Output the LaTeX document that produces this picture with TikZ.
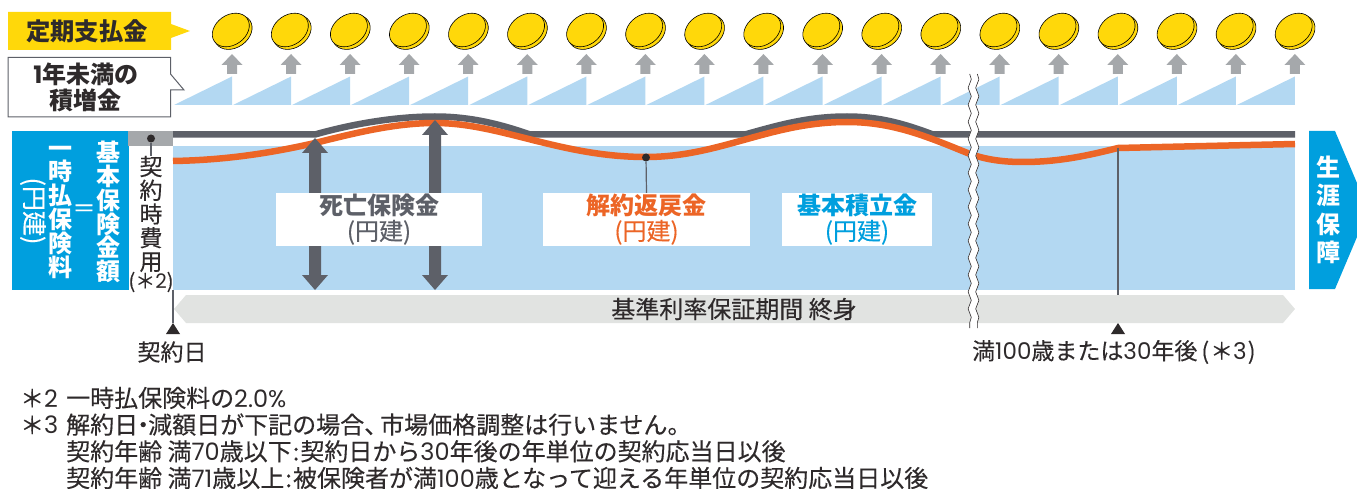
\documentclass[tikz,border=0pt]{standalone}
\usepackage{fontspec}
\setmainfont{Noto Sans CJK JP}[UprightFeatures={FakeBold=0.25}]
\newfontfamily\digitfont{Poppins}
\newcommand{\dg}[1]{{\digitfont #1}}
\usetikzlibrary{decorations.pathmorphing}
\definecolor{skyband}{HTML}{B3D8F2}
\definecolor{seablue}{HTML}{009FDE}
\definecolor{slategrey}{HTML}{5D6068}
\definecolor{lightgrey}{HTML}{A5A8AB}
\definecolor{bandgrey}{HTML}{E1E3E1}
\definecolor{coinyellow}{HTML}{FFD80A}
\definecolor{rust}{HTML}{EC6526}
\definecolor{inkgrey}{HTML}{2E2A2B}
\tikzset{
  lbl/.style={inner sep=0pt,text=inkgrey,font=\fontsize{23}{27}\selectfont,align=center},
  note/.style={inner sep=0pt,anchor=west,text=inkgrey,font=\fontsize{24}{26.7}\selectfont},
  tate/.style={inner sep=0pt,align=center,font=\fontsize{23}{23.7}\selectfont},
  whitebox/.style={fill=white,inner sep=0pt,align=center,font=\fontsize{24}{25}\selectfont},
  breakline/.style={decorate,decoration={snake,segment length=17pt,amplitude=1.6pt}}
}
\begin{document}
\begin{tikzpicture}[x=1pt,y=-1pt]
\useasboundingbox (0,0) rectangle (1357,489);
\fill[coinyellow] (8,12) -- (171,12) -- (171,24) -- (190,31) -- (171,38) -- (171,50) -- (8,50) -- cycle;
\node[lbl] (payout) at (87,31) {\fontsize{24.3}{27}\selectfont\bfseries 定期支払金};
\draw[slategrey,line width=1pt,fill=white] (8,57.5) -- (170.5,57.5) -- (170.5,74) -- (184,90) -- (170.5,90) -- (170.5,117) -- (8,117) -- cycle;
\node[lbl,font=\fontsize{24}{26}\selectfont\bfseries] (accrual) at (86,87.5) {\dg{1}年未満の\\積増金};
\foreach \i in {0,...,18}{
  \pgfmathsetmacro{\cx}{232+59.05*\i}
  \fill[skyband] (\cx-58,105) -- (\cx,76.5) -- (\cx,105) -- cycle;
  \fill[lightgrey] (\cx,54) -- (\cx+10.5,65) -- (\cx+5,65) -- (\cx+5,74) -- (\cx-5,74) -- (\cx-5,65) -- (\cx-10.5,65) -- cycle;
  \draw[black,line width=.6pt,fill=coinyellow,rotate around={35:(\cx+1.2,32.2)}] (\cx+1.2,32.2) ellipse [x radius=20.4pt,y radius=15.4pt];
  \draw[black,line width=.6pt,fill=coinyellow,rotate around={35:(\cx-1.2,30)}] (\cx-1.2,30) ellipse [x radius=20pt,y radius=15pt];
}
\fill[seablue] (12,131) rectangle (129,290);
\fill[lightgrey] (128,131) rectangle (173,146);
\fill[skyband] (173,146) rectangle (1295,290);
\draw[slategrey,line width=6.5pt] (173,134.5) -- (315,134.5) .. controls (352,124) and (395,116.5) .. (435,116.5) .. controls (470,116.5) and (500,124) .. (530,134.5) -- (745,134.5) .. controls (782,124) and (810,116.5) .. (847,116.5) .. controls (880,116.5) and (905,124) .. (933,134.5) -- (1295,134.5);
\draw[rust,line width=6.5pt] (173,161) .. controls (230,160) and (275,152) .. (315,143) .. controls (355,133) and (395,123) .. (435,123) .. controls (500,123) and (560,157) .. (646,157) .. controls (720,157) and (770,122) .. (847,122) .. controls (895,122) and (930,138) .. (970,154) .. controls (985,159) and (1000,162) .. (1023,162) .. controls (1060,162) and (1090,155) .. (1118,148) -- (1295,144);
\foreach \ax/\ay in {315/138,435/120}{
  \fill[slategrey] (\ax,\ay) -- (\ax+13,\ay+15) -- (\ax+6,\ay+15) -- (\ax+6,275) -- (\ax+13,275) -- (\ax,290) -- (\ax-13,275) -- (\ax-6,275) -- (\ax-6,\ay+15) -- (\ax-13,\ay+15) -- cycle;
}
\node[whitebox,minimum width=206pt,minimum height=53pt,text=slategrey] (death) at (379,219.5) {\bfseries 死亡保険金\\(円建)};
\node[whitebox,minimum width=207pt,minimum height=53pt,text=rust] (refund) at (646.5,219.5) {\bfseries 解約返戻金\\(円建)};
\node[whitebox,minimum width=150pt,minimum height=53pt,text=seablue] (reserve) at (857,219.5) {\bfseries 基本積立金\\(円建)};
\node[circle,fill=inkgrey,inner sep=0pt,minimum size=8pt] (refunddot) at (646,157.5) {};
\draw[slategrey,line width=1.2pt] (refunddot) -- (refund.north);
\node[circle,fill=inkgrey,inner sep=0pt,minimum size=8pt] (feedot) at (151,138.5) {};
\node[tate,text=inkgrey] (fee) at (151,214) {契\\約\\時\\費\\用};
\draw[slategrey,line width=1.2pt] (feedot) -- (fee.north);
\node[lbl,font=\fontsize{20}{24}\selectfont] (feenote) at (151,282) {(＊\dg{2})};
\node[tate,text=white,font=\fontsize{24}{23.8}\selectfont\bfseries] (sumins) at (108,212) {基\\本\\保\\険\\金\\額};
\node[tate,text=white] (eq) at (84,210.5) {＝};
\node[tate,text=white,font=\fontsize{24}{23.8}\selectfont\bfseries] (lump) at (60,212) {一\\時\\払\\保\\険\\料};
\node[tate,text=white,rotate=-90,font=\fontsize{25}{25}\selectfont] (lumpyen) at (33,211) {(円建)};
\fill[seablue] (1309,131) -- (1335,131) -- (1357,183) -- (1357,237) -- (1335,289) -- (1309,289) -- cycle;
\node[tate,text=white,font=\fontsize{24}{28.5}\selectfont\bfseries] (life) at (1328,210) {生\\涯\\保\\障};
\fill[bandgrey] (174,309) -- (186,295) -- (1283,295) -- (1295,309) -- (1283,323) -- (186,323) -- cycle;
\node[lbl,font=\fontsize{24}{26}\selectfont] (term) at (734,309) {基準利率保証期間 終身};
\coordinate (starttop) at (173,290);
\coordinate (startmark) at (173,323);
\coordinate (endtop) at (1118,148);
\coordinate (endmark) at (1118,295);
\draw[slategrey,line width=1.2pt] (starttop) -- (startmark);
\draw[slategrey,line width=1.2pt] (endtop) -- (endmark);
\fill[inkgrey] (173,323) -- (180,334) -- (166,334) -- cycle;
\fill[inkgrey] (1118,323) -- (1125,334) -- (1111,334) -- cycle;
\node[lbl] (startday) at (172,352) {契約日};
\node[lbl,anchor=west] (endday) at (972,352) {満\dg{100}歳または\dg{30}年後\hspace{4pt}(\hspace{1pt}＊\dg{3}\hspace{1pt})};
\draw[white,line width=7.5pt,breakline] (973.5,74) -- (973.5,328);
\draw[inkgrey,line width=.6pt,breakline] (969.7,74) -- (969.7,328);
\draw[inkgrey,line width=.6pt,breakline] (977.3,74) -- (977.3,328);
\node[note,align=left] (marks) at (20,411.5) {＊\dg{2}\\＊\dg{3}};
\node[note,align=left] (notes) at (66,438) {一時払保険料の\dg{2.0\%}\\解約日\hspace{-7pt}・\hspace{-7pt}減額日が下記の場合、\hspace{-8pt}市場価格調整は行いません。\\契約年齢 満\dg{70}歳以下\hspace{1pt}:\hspace{1pt}契約日から\dg{30}年後の年単位の契約応当日以後\\契約年齢 満\dg{71}歳以上\hspace{1pt}:\hspace{1pt}被保険者が満\dg{100}歳となって迎える年単位の契約応当日以後};
\end{tikzpicture}
\end{document}
